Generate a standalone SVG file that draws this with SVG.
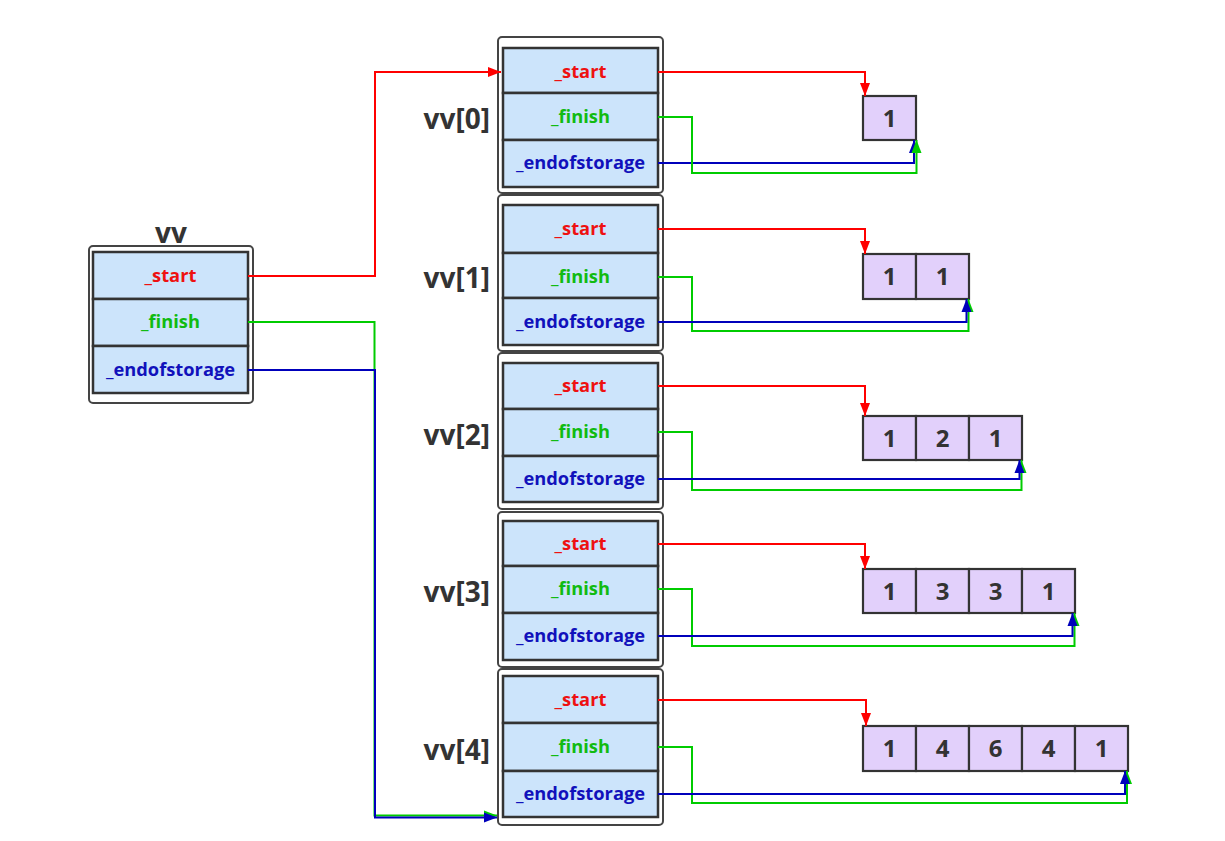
<svg xmlns="http://www.w3.org/2000/svg" width="1225" height="841" viewBox="0 0 1225 841">
<style>
.outer{fill:#fff;stroke:#444;stroke-width:2}
.row{fill:#cce4fb;stroke:#333;stroke-width:2.5}
.t{font-family:"Open Sans","Liberation Sans",sans-serif;font-weight:bold;font-size:18.3px;text-anchor:middle}
.rs{fill:#ee1111}.gs{fill:#11bb11}.bs{fill:#1111bb}
.lbl{font-family:"Open Sans","Liberation Sans",sans-serif;font-weight:bold;font-size:28px;fill:#333}
.cell{fill:#e2d0fb;stroke:#333;stroke-width:2.2}
.num{font-family:"Open Sans","Liberation Sans",sans-serif;font-weight:bold;font-size:24px;fill:#333;text-anchor:middle}
.r{fill:none;stroke:#ff0000;stroke-width:2}
.g{fill:none;stroke:#00cc00;stroke-width:2}
.b{fill:none;stroke:#0000bb;stroke-width:2}
</style>
<defs>
<marker id="ar" viewBox="0 0 13 12" refX="13" refY="6" markerWidth="13" markerHeight="12" markerUnits="userSpaceOnUse" orient="auto"><path d="M0,1 L13,6 L0,11 z" fill="#ff0000"/></marker>
<marker id="ag" viewBox="0 0 13 12" refX="13" refY="6" markerWidth="13" markerHeight="12" markerUnits="userSpaceOnUse" orient="auto"><path d="M0,1 L13,6 L0,11 z" fill="#00cc00"/></marker>
<marker id="ab" viewBox="0 0 13 12" refX="13" refY="6" markerWidth="13" markerHeight="12" markerUnits="userSpaceOnUse" orient="auto"><path d="M0,1 L13,6 L0,11 z" fill="#0000bb"/></marker>
</defs>
<rect width="1225" height="841" fill="#fff"/>

<g id="vv">
<text class="lbl" x="171" y="243" text-anchor="middle">vv</text>
<rect class="outer" x="89" y="246" width="164" height="157" rx="4"/>
<rect class="row" x="93" y="252" width="155" height="47"/>
<rect class="row" x="93" y="299" width="155" height="47"/>
<rect class="row" x="93" y="346" width="155" height="47"/>
<text class="t rs" x="170.5" y="282">_start</text>
<text class="t gs" x="170.5" y="328">_finish</text>
<text class="t bs" x="170.5" y="376">_endofstorage</text>
</g>

<g id="vv0">
<rect class="outer" x="498" y="37" width="165" height="156" rx="4"/>
<rect class="row" x="503" y="48" width="155" height="45"/>
<rect class="row" x="503" y="93" width="155" height="47"/>
<rect class="row" x="503" y="140" width="155" height="47"/>
<text class="t rs" x="580.5" y="78">_start</text>
<text class="t gs" x="580.5" y="123">_finish</text>
<text class="t bs" x="580.5" y="169">_endofstorage</text>
<text class="lbl" x="490" y="129" text-anchor="end">vv[0]</text>
</g>
<g id="vv1">
<rect class="outer" x="498" y="195" width="165" height="156" rx="4"/>
<rect class="row" x="503" y="205" width="155" height="48"/>
<rect class="row" x="503" y="253" width="155" height="45"/>
<rect class="row" x="503" y="298" width="155" height="47"/>
<text class="t rs" x="580.5" y="235">_start</text>
<text class="t gs" x="580.5" y="283">_finish</text>
<text class="t bs" x="580.5" y="328">_endofstorage</text>
<text class="lbl" x="490" y="288" text-anchor="end">vv[1]</text>
</g>
<g id="vv2">
<rect class="outer" x="498" y="353" width="165" height="156" rx="4"/>
<rect class="row" x="503" y="363" width="155" height="46"/>
<rect class="row" x="503" y="409" width="155" height="47"/>
<rect class="row" x="503" y="456" width="155" height="46"/>
<text class="t rs" x="580.5" y="392">_start</text>
<text class="t gs" x="580.5" y="438">_finish</text>
<text class="t bs" x="580.5" y="485">_endofstorage</text>
<text class="lbl" x="490" y="445" text-anchor="end">vv[2]</text>
</g>
<g id="vv3">
<rect class="outer" x="498" y="512" width="165" height="155" rx="4"/>
<rect class="row" x="503" y="521" width="155" height="45"/>
<rect class="row" x="503" y="566" width="155" height="47"/>
<rect class="row" x="503" y="613" width="155" height="47"/>
<text class="t rs" x="580.5" y="550">_start</text>
<text class="t gs" x="580.5" y="595">_finish</text>
<text class="t bs" x="580.5" y="642">_endofstorage</text>
<text class="lbl" x="490" y="602" text-anchor="end">vv[3]</text>
</g>
<g id="vv4">
<rect class="outer" x="498" y="669" width="165" height="156" rx="4"/>
<rect class="row" x="503" y="676" width="155" height="47"/>
<rect class="row" x="503" y="723" width="155" height="48"/>
<rect class="row" x="503" y="771" width="155" height="46"/>
<text class="t rs" x="580.5" y="706">_start</text>
<text class="t gs" x="580.5" y="753">_finish</text>
<text class="t bs" x="580.5" y="800">_endofstorage</text>
<text class="lbl" x="490" y="760" text-anchor="end">vv[4]</text>
</g>

<g id="row0">
<rect class="cell" x="863" y="96" width="53" height="44"/>
<text class="num" x="889.5" y="127">1</text>
</g>
<g id="row1">
<rect class="cell" x="863" y="254" width="53" height="45"/>
<rect class="cell" x="916" y="254" width="53" height="45"/>
<text class="num" x="889.5" y="285">1</text>
<text class="num" x="942.5" y="285">1</text>
</g>
<g id="row2">
<rect class="cell" x="863" y="416" width="53" height="44"/>
<rect class="cell" x="916" y="416" width="53" height="44"/>
<rect class="cell" x="969" y="416" width="53" height="44"/>
<text class="num" x="889.5" y="447">1</text>
<text class="num" x="942.5" y="447">2</text>
<text class="num" x="995.5" y="447">1</text>
</g>
<g id="row3">
<rect class="cell" x="863" y="569" width="53" height="44"/>
<rect class="cell" x="916" y="569" width="53" height="44"/>
<rect class="cell" x="969" y="569" width="53" height="44"/>
<rect class="cell" x="1022" y="569" width="53" height="44"/>
<text class="num" x="889.5" y="600">1</text>
<text class="num" x="942.5" y="600">3</text>
<text class="num" x="995.5" y="600">3</text>
<text class="num" x="1048.5" y="600">1</text>
</g>
<g id="row4">
<rect class="cell" x="863" y="726" width="53" height="45"/>
<rect class="cell" x="916" y="726" width="53" height="45"/>
<rect class="cell" x="969" y="726" width="53" height="45"/>
<rect class="cell" x="1022" y="726" width="53" height="45"/>
<rect class="cell" x="1075" y="726" width="53" height="45"/>
<text class="num" x="889.5" y="757">1</text>
<text class="num" x="942.5" y="757">4</text>
<text class="num" x="995.5" y="757">6</text>
<text class="num" x="1048.5" y="757">4</text>
<text class="num" x="1101.5" y="757">1</text>
</g>

<g id="connectors">
<path class="r" d="M248,276 H375 V72 H501" marker-end="url(#ar)"/>
<path class="g" d="M248,322 H374.5 V815.5 H497" marker-end="url(#ag)"/>
<path class="b" d="M248,370 H375 V817.5 H497" marker-end="url(#ab)"/>

<path class="r" d="M658,72 H865 V96" marker-end="url(#ar)"/>
<path class="b" d="M658,163 H914 V140" marker-end="url(#ab)"/>
<path class="g" d="M658,117 H692 V173 H916.5 V140" marker-end="url(#ag)"/>

<path class="r" d="M658,229 H865 V254" marker-end="url(#ar)"/>
<path class="g" d="M658,277 H692 V331 H968.5 V299" marker-end="url(#ag)"/>
<path class="b" d="M658,322 H966.5 V299" marker-end="url(#ab)"/>

<path class="r" d="M658,386 H865 V416" marker-end="url(#ar)"/>
<path class="g" d="M658,432 H692 V490 H1021.5 V460" marker-end="url(#ag)"/>
<path class="b" d="M658,479 H1019.5 V460" marker-end="url(#ab)"/>

<path class="r" d="M658,544 H865 V569" marker-end="url(#ar)"/>
<path class="g" d="M658,589 H692 V646 H1074.5 V613" marker-end="url(#ag)"/>
<path class="b" d="M658,636 H1072.5 V613" marker-end="url(#ab)"/>

<path class="r" d="M658,700 H866 V726" marker-end="url(#ar)"/>
<path class="g" d="M658,747 H692 V803 H1127 V771" marker-end="url(#ag)"/>
<path class="b" d="M658,794 H1125 V771" marker-end="url(#ab)"/>
</g>
</svg>
